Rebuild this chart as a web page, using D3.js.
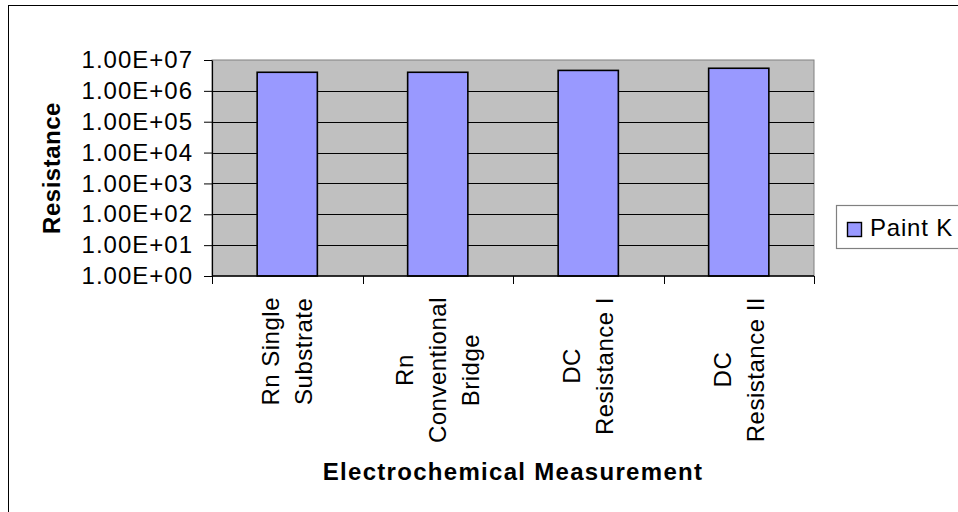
<!DOCTYPE html>
<html lang="en">
<head>
  <meta charset="UTF-8" />
  <title>Resistance by Electrochemical Measurement</title>
  <script src="https://cdn.jsdelivr.net/npm/d3@7/dist/d3.min.js"></script>
  <style>
    html, body { margin: 0; padding: 0; background: #fff; overflow: hidden; }
    svg text { font-family: "Liberation Sans", Arial, sans-serif; fill: #000; }
  </style>
</head>
<body>
  <div id="chart"></div>
  <script>
    // data
    const categories = ["Rn Single Substrate", "Rn Conventional Bridge", "DC Resistance I", "DC Resistance II"];
    const labelLines = [["Rn Single", "Substrate"], ["Rn", "Conventional", "Bridge"], ["DC", "Resistance I"], ["DC", "Resistance II"]];
    const seriesName = "Paint K";
    const values = [4.0e6, 4.0e6, 4.6e6, 5.4e6];
    const tickValues = [1, 10, 100, 1e3, 1e4, 1e5, 1e6, 1e7];

    const width = 958, height = 512;
    const plot = { left: 212, top: 60, right: 814, bottom: 276 };
    const fs = 24;

    const svg = d3.select("#chart").append("svg")
      .attr("width", width).attr("height", height);

    // chart border
    svg.append("rect")
      .attr("x", 8.5).attr("y", 5.5)
      .attr("width", 960).attr("height", 520)
      .attr("fill", "#fff").attr("stroke", "#000").attr("stroke-width", 1);

    const x = d3.scaleBand().domain(categories).range([plot.left, plot.right]).padding(0);
    const y = d3.scaleLog().domain([1, 1e7]).range([plot.bottom, plot.top]);

    // plot area
    svg.append("rect")
      .attr("x", plot.left).attr("y", plot.top)
      .attr("width", plot.right - plot.left).attr("height", plot.bottom - plot.top)
      .attr("fill", "#C0C0C0").attr("stroke", "#808080").attr("stroke-width", 1);

    // gridlines
    svg.append("g").selectAll("line")
      .data(tickValues.slice(1, -1))
      .join("line")
      .attr("x1", plot.left).attr("x2", plot.right)
      .attr("y1", d => Math.round(y(d)) + 0.5).attr("y2", d => Math.round(y(d)) + 0.5)
      .attr("stroke", "#000").attr("stroke-width", 1);

    // bars
    const barW = x.bandwidth() * 0.4;
    svg.append("g").selectAll("rect")
      .data(values)
      .join("rect")
      .attr("x", (d, i) => x(categories[i]) + (x.bandwidth() - barW) / 2)
      .attr("y", d => y(d))
      .attr("width", barW)
      .attr("height", d => y(1) - y(d))
      .attr("fill", "#9999FF")
      .attr("stroke", "#000").attr("stroke-width", 1.6);

    // y axis
    const fmt = d => {
      const [m, e] = d.toExponential(2).split("e");
      return m + "E" + e[0] + e.slice(1).padStart(2, "0");
    };
    const yAxis = svg.append("g")
      .attr("transform", `translate(${plot.left},0)`)
      .call(d3.axisLeft(y).tickValues(tickValues).tickFormat(fmt).tickSize(8).tickSizeOuter(0).tickPadding(11));
    yAxis.select(".domain").attr("stroke", "#000").attr("stroke-width", 1.2);
    yAxis.selectAll(".tick line").attr("stroke", "#000");
    yAxis.selectAll(".tick text")
      .attr("font-size", fs).attr("letter-spacing", "1px")
      .style("font-family", "'Liberation Sans', Arial, sans-serif").attr("fill", "#000");

    // x axis line + boundary ticks
    svg.append("line")
      .attr("x1", plot.left).attr("x2", plot.right)
      .attr("y1", plot.bottom).attr("y2", plot.bottom)
      .attr("stroke", "#000").attr("stroke-width", 1.5);
    const bounds = categories.map(c => x(c)).concat([plot.right]);
    svg.append("g").selectAll("line")
      .data(bounds)
      .join("line")
      .attr("x1", d => Math.round(d) + 0.5).attr("x2", d => Math.round(d) + 0.5)
      .attr("y1", plot.bottom).attr("y2", plot.bottom + 8)
      .attr("stroke", "#000");

    // category labels (rotated, lines centred within block)
    const labelTop = 297, lineGap = 33;
    categories.forEach((c, i) => {
      const cx = x(c) + x.bandwidth() / 2;
      const g = svg.append("g").attr("transform", `translate(${cx},${labelTop}) rotate(-90)`);
      const lines = labelLines[i];
      const texts = g.selectAll("text")
        .data(lines)
        .join("text")
        .attr("font-size", fs).attr("letter-spacing", "0.5px")
        .attr("text-anchor", "middle")
        .attr("dy", "0.35em")
        .attr("y", (d, j) => (j - (lines.length - 1) / 2) * lineGap)
        .text(d => d);
      const w = d3.max(texts.nodes(), n => n.getComputedTextLength());
      texts.attr("x", -w / 2);
    });

    // axis titles
    svg.append("text")
      .attr("transform", `translate(60,${(plot.top + plot.bottom) / 2}) rotate(-90)`)
      .attr("text-anchor", "middle")
      .attr("font-size", fs).attr("font-weight", "bold").attr("letter-spacing", "0.5px")
      .text("Resistance");
    svg.append("text")
      .attr("x", (plot.left + plot.right) / 2).attr("y", 480)
      .attr("text-anchor", "middle")
      .attr("font-size", fs).attr("font-weight", "bold").attr("letter-spacing", "1.3px")
      .text("Electrochemical Measurement");

    // legend
    const legend = svg.append("g");
    legend.append("rect")
      .attr("x", 836.5).attr("y", 205.5).attr("width", 140).attr("height", 43)
      .attr("fill", "#fff").attr("stroke", "#808080").attr("stroke-width", 1.2);
    legend.append("rect")
      .attr("x", 847.5).attr("y", 222.5).attr("width", 14).attr("height", 14)
      .attr("fill", "#9999FF").attr("stroke", "#000").attr("stroke-width", 1.4);
    legend.append("text")
      .attr("x", 870).attr("y", 236)
      .attr("font-size", fs).attr("letter-spacing", "0.8px")
      .text(seriesName);
  </script>
</body>
</html>
